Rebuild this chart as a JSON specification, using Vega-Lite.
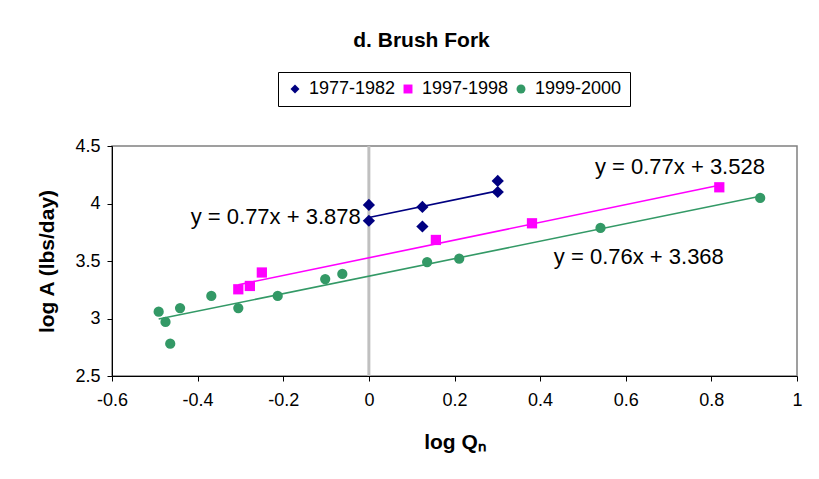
{
  "$schema": "https://vega.github.io/schema/vega-lite/v6.json",
  "width": 685,
  "height": 230,
  "autosize": {"type": "none"},
  "padding": {"left": 112, "top": 146, "right": 22, "bottom": 103},
  "background": "white",
  "config": {
    "font": "Liberation Sans",
    "view": {"stroke": "#808080", "strokeWidth": 1.5},
    "axis": {"grid": false, "domainColor": "#000000", "tickColor": "#000000", "tickSize": 5, "labelColor": "#000000", "titleColor": "#000000", "labelFontSize": 18, "titleFontSize": 21, "titleFontWeight": "bold", "labelFont": "Liberation Sans", "titleFont": "Liberation Sans"},
    "legend": {"labelFont": "Liberation Sans"}
  },
  "title": {"text": "d. Brush Fork", "fontSize": 21, "fontWeight": "bold", "font": "Liberation Sans", "color": "#000000", "anchor": "middle", "frame": "group", "dx": -33, "offset": 21},
  "datasets": {
    "points": [
      {"series": "1977-1982", "x": 0, "y": 3.987},
      {"series": "1977-1982", "x": 0, "y": 3.85},
      {"series": "1977-1982", "x": 0.125, "y": 3.97},
      {"series": "1977-1982", "x": 0.125, "y": 3.8},
      {"series": "1977-1982", "x": 0.301, "y": 4.196},
      {"series": "1977-1982", "x": 0.301, "y": 4.1},
      {"series": "1997-1998", "x": -0.305, "y": 3.254},
      {"series": "1997-1998", "x": -0.278, "y": 3.283},
      {"series": "1997-1998", "x": -0.25, "y": 3.4},
      {"series": "1997-1998", "x": 0.1565, "y": 3.683},
      {"series": "1997-1998", "x": 0.381, "y": 3.828},
      {"series": "1997-1998", "x": 0.8185, "y": 4.141},
      {"series": "1999-2000", "x": -0.491, "y": 3.059},
      {"series": "1999-2000", "x": -0.475, "y": 2.97},
      {"series": "1999-2000", "x": -0.464, "y": 2.781},
      {"series": "1999-2000", "x": -0.441, "y": 3.091},
      {"series": "1999-2000", "x": -0.368, "y": 3.196},
      {"series": "1999-2000", "x": -0.305, "y": 3.091},
      {"series": "1999-2000", "x": -0.213, "y": 3.196},
      {"series": "1999-2000", "x": -0.102, "y": 3.343},
      {"series": "1999-2000", "x": -0.062, "y": 3.387},
      {"series": "1999-2000", "x": 0.136, "y": 3.491},
      {"series": "1999-2000", "x": 0.211, "y": 3.52},
      {"series": "1999-2000", "x": 0.541, "y": 3.787},
      {"series": "1999-2000", "x": 0.914, "y": 4.048}
    ],
    "trends": [
      {"series": "1977-1982", "x": 0, "y": 3.878},
      {"series": "1977-1982", "x": 0.301, "y": 4.110},
      {"series": "1997-1998", "x": -0.305, "y": 3.293},
      {"series": "1997-1998", "x": 0.8185, "y": 4.158},
      {"series": "1999-2000", "x": -0.491, "y": 2.995},
      {"series": "1999-2000", "x": 0.914, "y": 4.063}
    ],
    "labels": [
      {"text": "y = 0.77x + 3.878", "x": -0.019, "y": 3.819, "side": "right"},
      {"text": "y = 0.77x + 3.528", "x": 0.528, "y": 4.254, "side": "left"},
      {"text": "y = 0.76x + 3.368", "x": 0.432, "y": 3.474, "side": "left"}
    ],
    "zero": [
      {"x": 0, "y": 2.5, "y2": 4.5}
    ]
  },
  "encoding": {
    "x": {"field": "x", "type": "quantitative", "scale": {"domain": [-0.6, 1], "nice": false, "zero": false},
      "axis": {"title": "log Qₙ", "values": [-0.6, -0.4, -0.2, 0, 0.2, 0.4, 0.6, 0.8, 1], "format": ".1~f", "labelExpr": "replace(datum.label, '\u2212', '-')", "labelPadding": 10, "titlePadding": 22, "labelFlush": false}},
    "y": {"field": "y", "type": "quantitative", "scale": {"domain": [2.5, 4.5], "nice": false, "zero": false},
      "axis": {"title": "log A (lbs/day)", "values": [2.5, 3, 3.5, 4, 4.5], "format": ".1~f", "labelPadding": 7, "titlePadding": 17, "labelFlush": false}}
  },
  "layer": [
    {
      "data": {"name": "zero"},
      "mark": {"type": "rule", "color": "#c0c0c0", "strokeWidth": 3},
      "encoding": {
        "y2": {"field": "y2"}
      }
    },
    {
      "data": {"name": "trends"},
      "mark": {"type": "line", "strokeWidth": 1.6},
      "encoding": {
        "stroke": {"condition": [{"test": "datum.series === '1977-1982'", "value": "#000080"}, {"test": "datum.series === '1997-1998'", "value": "#ff00ff"}], "value": "#339966"},
        "detail": {"field": "series"}
      }
    },
    {
      "data": {"name": "points"},
      "mark": {"type": "point", "filled": true, "opacity": 1},
      "encoding": {
        "color": {"field": "series", "type": "nominal", "scale": {"domain": ["1977-1982", "1997-1998", "1999-2000"], "range": ["#000080", "#ff00ff", "#339966"]},
          "legend": {"title": null, "orient": "none", "legendX": 166, "legendY": -74, "direction": "horizontal", "strokeColor": "#000000", "padding": 8, "labelFontSize": 18, "labelColor": "#000000", "symbolSize": 80, "labelOffset": 5, "columnPadding": 3, "fillColor": "white"}},
        "shape": {"field": "series", "type": "nominal", "scale": {"domain": ["1977-1982", "1997-1998", "1999-2000"], "range": ["diamond", "square", "circle"]}},
        "size": {"condition": {"test": "datum.series === '1977-1982'", "value": 150}, "value": 105}
      }
    },
    {
      "data": {"name": "labels"},
      "transform": [{"filter": "datum.side === 'right'"}],
      "mark": {"type": "text", "align": "right", "baseline": "alphabetic", "fontSize": 22, "font": "Liberation Sans", "color": "#000000"},
      "encoding": {
        "text": {"field": "text"}
      }
    },
    {
      "data": {"name": "labels"},
      "transform": [{"filter": "datum.side === 'left'"}],
      "mark": {"type": "text", "align": "left", "baseline": "alphabetic", "fontSize": 22, "font": "Liberation Sans", "color": "#000000"},
      "encoding": {
        "text": {"field": "text"}
      }
    }
  ]
}
